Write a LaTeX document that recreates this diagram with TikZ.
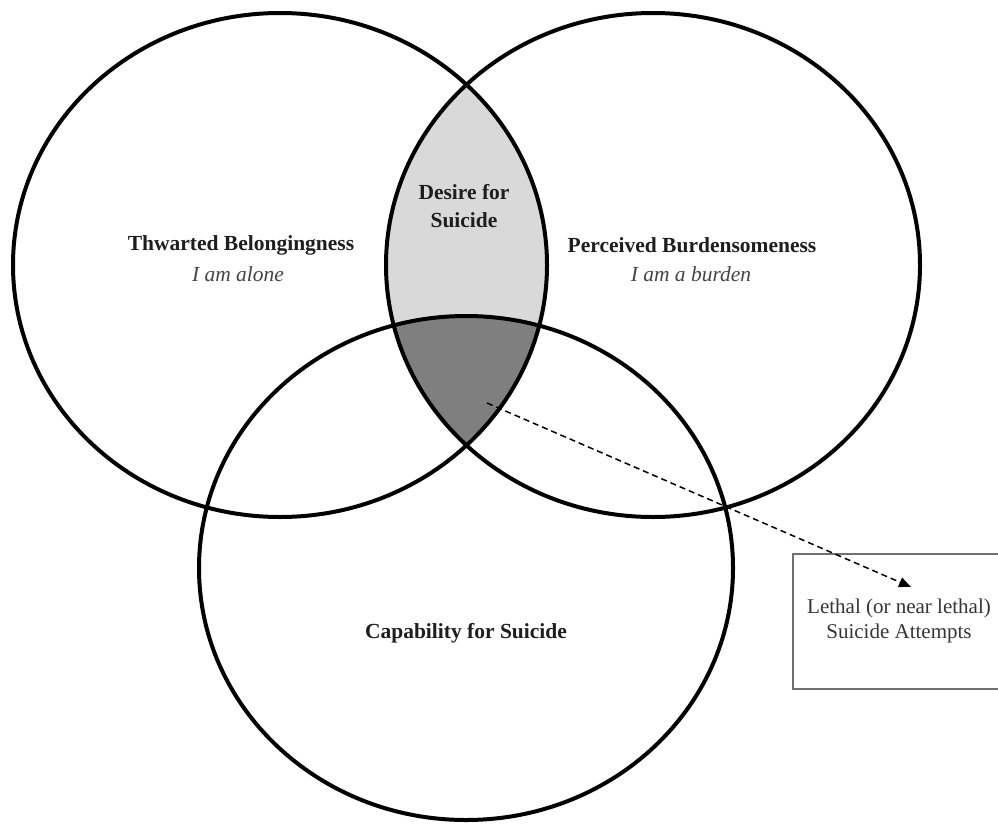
\documentclass[tikz,border=0pt]{standalone}
\usepackage{fontspec}
\setmainfont{Liberation Serif}
\usetikzlibrary{arrows.meta}
\definecolor{lightlens}{HTML}{D9D9D9}
\definecolor{darklens}{HTML}{7F7F7F}
\definecolor{labeltext}{HTML}{1E1E1E}
\definecolor{subtext}{HTML}{454545}
\definecolor{boxline}{HTML}{707070}
\begin{document}
\begin{tikzpicture}[x=1pt,y=-1pt,
  ring/.style={line width=4pt, draw=black},
  mainlabel/.style={align=center, text=labeltext, font=\fontsize{21.5}{28}\selectfont\bfseries, inner sep=0pt},
  sublabel/.style={text=subtext, font=\fontsize{21.5}{28}\selectfont\itshape, inner sep=0pt},
  outbox/.style={draw=boxline, line width=2pt, minimum width=213pt, minimum height=135pt, align=center, text=labeltext!90, font=\fontsize{21}{25}\selectfont},
  conn/.style={dash pattern=on 6pt off 4pt, line width=1.5pt, -{Triangle[length=12pt,width=10pt]}}
]
\clip (0,0) rectangle (998,827);
\fill[white] (0,0) rectangle (998,827);
\coordinate (L) at (280,265);
\coordinate (R) at (653,265);
\coordinate (B) at (466,568);
% shaded lenses
\begin{scope}
  \clip (L) ellipse [x radius=267pt, y radius=252pt];
  \fill[lightlens] (R) ellipse [x radius=267pt, y radius=252pt];
\end{scope}
\begin{scope}
  \clip (L) ellipse [x radius=267pt, y radius=252pt];
  \clip (R) ellipse [x radius=267pt, y radius=252pt];
  \fill[darklens] (B) ellipse [x radius=267pt, y radius=252pt];
\end{scope}
% circles
\draw[ring] (L) ellipse [x radius=267pt, y radius=252pt];
\draw[ring] (R) ellipse [x radius=267pt, y radius=252pt];
\draw[ring] (B) ellipse [x radius=267pt, y radius=252pt];
% labels
\node[mainlabel] (tb) at (241,245) {Thwarted Belongingness};
\node[sublabel] (tbs) at (238,274) {I am alone};
\node[mainlabel] (pb) at (692,245) {Perceived Burdensomeness};
\node[sublabel] (pbs) at (691,274) {I am a burden};
\node[mainlabel] (ds) at (464,206) {Desire for\\Suicide};
\node[mainlabel] (cs) at (466,633) {Capability for Suicide};
% outcome box
\node[outbox] (box) at (899,621) {Lethal (or near lethal)\\Suicide Attempts};
% connector
\coordinate (start) at (487,403);
\coordinate (tip) at (911,587);
\draw[conn] (start) -- (tip);
\end{tikzpicture}
\end{document}
